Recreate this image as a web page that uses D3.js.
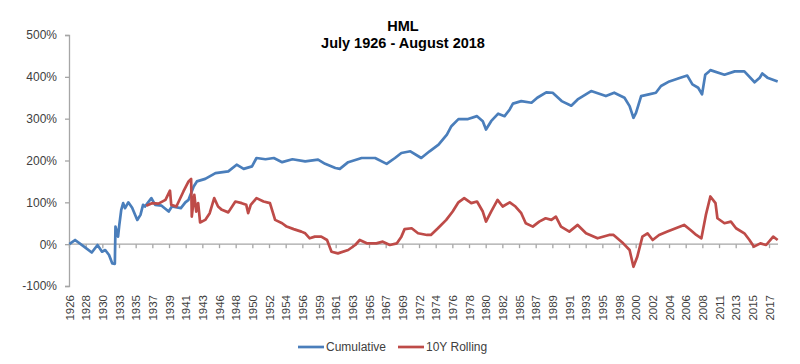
<!DOCTYPE html>
<html>
<head>
<meta charset="utf-8">
<script src="https://cdn.jsdelivr.net/npm/d3@7"></script>
<style>
  body { margin: 0; background: #fff; }
  svg text { font-family: "Liberation Sans", Arial, sans-serif; }
</style>
</head>
<body>
<div id="chart"></div>
<script>
// HML cumulative and 10-year rolling return, monthly from July 1926 to August 2018
var startMonth = "1926-07";
var endMonth = "2018-08";

// x-axis labels, one every 26 months (Excel category axis interval)
var tickYears = [1926, 1928, 1930, 1933, 1935, 1937, 1939, 1941, 1943, 1946, 1948, 1950, 1952,
  1954, 1956, 1959, 1961, 1963, 1965, 1967, 1969, 1972, 1974, 1976, 1978, 1980, 1982, 1985,
  1987, 1989, 1991, 1993, 1995, 1998, 2000, 2002, 2004, 2006, 2008, 2011, 2013, 2015, 2017];
var tickStep = 26;
var yTicks = [-100, 0, 100, 200, 300, 400, 500];

var cumDates = ["1926-07", "1927-04", "1928-07", "1929-06", "1930-03", "1930-10", "1931-03", "1931-09",
  "1932-02", "1932-06", "1932-07", "1932-11", "1933-01", "1933-04", "1933-07", "1933-10", "1934-03",
  "1934-09", "1935-05", "1935-10", "1936-02", "1936-05", "1937-03", "1937-09", "1938-07", "1939-06",
  "1939-11", "1941-01", "1941-08", "1942-01", "1942-09", "1943-02", "1944-03", "1945-07", "1947-03",
  "1948-04", "1949-03", "1950-04", "1950-11", "1952-01", "1953-02", "1954-03", "1955-07", "1957-03",
  "1958-11", "1959-10", "1961-02", "1961-09", "1962-10", "1964-07", "1966-04", "1967-10", "1968-11",
  "1969-09", "1970-11", "1972-04", "1973-05", "1974-07", "1975-08", "1976-03", "1977-02", "1978-05",
  "1979-07", "1980-04", "1980-09", "1981-05", "1982-04", "1983-02", "1983-10", "1984-03", "1985-04",
  "1986-08", "1987-05", "1988-07", "1989-05", "1990-07", "1991-10", "1992-08", "1994-05", "1996-04",
  "1997-05", "1998-09", "1999-05", "1999-11", "2000-03", "2000-11", "2001-11", "2002-10", "2003-06",
  "2004-07", "2005-11", "2006-11", "2007-07", "2008-04", "2008-10", "2009-03", "2009-09", "2009-11",
  "2011-09", "2013-01", "2014-04", "2015-08", "2016-04", "2016-08", "2017-04", "2018-08"];
var cumValues = [0, 10, -7, -20, -2, -18, -14, -26,
  -46, -47, 42, 18, 46, 82, 98, 86, 100,
  87, 58, 70, 94, 90, 110, 94, 92, 78,
  90, 86, 100, 106, 138, 150, 156, 170, 174,
  190, 180, 186, 206, 203, 206, 196, 203, 198,
  202, 192, 182, 180, 196, 206, 206, 192, 206,
  218, 222, 206, 222, 238, 262, 282, 299, 299,
  306, 294, 274, 294, 312, 306, 322, 336, 342,
  338, 350, 363, 362, 342, 331, 346, 366, 354,
  362, 350, 330, 302, 314, 354, 358, 362, 378,
  389, 397, 403, 382, 374, 358, 405, 413, 416,
  405, 413, 413, 387, 398, 408, 398, 389];

var rollDates = ["1936-07", "1937-04", "1938-02", "1939-01", "1939-08", "1939-10", "1940-06", "1941-05",
  "1942-01", "1942-05", "1942-06", "1942-10", "1943-01", "1943-04", "1943-07", "1944-03", "1944-10",
  "1945-05", "1945-11", "1946-05", "1947-03", "1948-02", "1948-12", "1949-07", "1949-10", "1950-02",
  "1950-11", "1951-10", "1952-08", "1953-04", "1954-03", "1954-10", "1955-09", "1956-09", "1957-03",
  "1957-10", "1958-06", "1959-04", "1960-01", "1960-08", "1961-06", "1962-10", "1963-09", "1964-04",
  "1965-03", "1966-06", "1967-04", "1968-03", "1969-02", "1969-09", "1970-02", "1971-01", "1971-11",
  "1973-01", "1973-07", "1974-06", "1975-07", "1976-05", "1977-02", "1977-11", "1978-10", "1979-07",
  "1980-04", "1980-09", "1981-05", "1982-03", "1982-11", "1983-10", "1984-07", "1985-04", "1985-11",
  "1986-10", "1987-08", "1988-06", "1989-03", "1989-10", "1990-06", "1991-07", "1992-08", "1993-09",
  "1995-03", "1996-09", "1997-04", "1998-07", "1999-05", "1999-11", "2000-05", "2001-01", "2001-09",
  "2002-05", "2003-03", "2004-04", "2005-05", "2006-06", "2007-04", "2008-01", "2008-09", "2009-04",
  "2009-11", "2010-07", "2010-10", "2011-09", "2012-07", "2013-03", "2014-04", "2014-12", "2015-07",
  "2016-05", "2017-02", "2018-01", "2018-08"];
var rollValues = [92, 98, 97, 106, 128, 94, 90, 126,
  150, 156, 66, 118, 78, 98, 52, 58, 74,
  110, 90, 82, 76, 102, 98, 94, 74, 94,
  110, 102, 98, 58, 50, 42, 36, 30, 26,
  14, 18, 18, 10, -18, -22, -14, -2, 10,
  2, 2, 6, -2, 2, 18, 36, 38, 26,
  22, 22, 38, 58, 78, 100, 110, 98, 102,
  78, 54, 78, 106, 90, 100, 90, 74, 50,
  42, 54, 62, 58, 66, 42, 30, 46, 26,
  14, 22, 22, 2, -14, -54, -30, 18, 26,
  10, 22, 30, 38, 46, 34, 22, 14, 70,
  114, 98, 62, 50, 54, 38, 26, 10, -6,
  2, -2, 18, 10];

function monthIndex(s) {
  var p = s.split("-"), q = startMonth.split("-");
  return (+p[0] - +q[0]) * 12 + (+p[1] - +q[1]);
}
var nMonths = monthIndex(endMonth) + 1;

var width = 800, height = 364;
var margin = { top: 35, right: 22, bottom: 78, left: 69 };

var svg = d3.select("#chart").append("svg")
    .attr("width", width)
    .attr("height", height);

var x = d3.scaleLinear()
    .domain([0, nMonths])
    .range([margin.left, width - margin.right]);

var y = d3.scaleLinear()
    .domain([-100, 500])
    .range([height - margin.bottom, margin.top]);

var axisColor = "#A6A6A6";
var textColor = "#404040";

// Y axis
var yAxis = svg.append("g")
    .attr("transform", "translate(" + margin.left + ",0)")
    .call(d3.axisLeft(y).tickValues(yTicks).tickSize(4).tickPadding(8)
      .tickFormat(function (d) { return d + "%"; }));
yAxis.select(".domain").attr("stroke", axisColor).attr("stroke-width", 1.3);
yAxis.selectAll(".tick line").attr("stroke", axisColor).attr("stroke-width", 1.3);
yAxis.selectAll(".tick text")
    .attr("fill", textColor)
    .style("font-size", "12px")
    .style("font-family", "'Liberation Sans', Arial, sans-serif");

// X axis sits on the 0% line
var xAxis = svg.append("g")
    .attr("transform", "translate(0," + y(0) + ")")
    .call(d3.axisBottom(x)
      .tickValues(tickYears.map(function (d, i) { return i * tickStep; }))
      .tickSize(4)
      .tickFormat(function (d, i) { return tickYears[i]; }));
xAxis.select(".domain")
    .attr("d", "M" + x(0) + ",0H" + x(nMonths))
    .attr("stroke", axisColor).attr("stroke-width", 1.3);
xAxis.selectAll(".tick line").attr("stroke", axisColor).attr("stroke-width", 1.3);
xAxis.selectAll(".tick text")
    .attr("fill", textColor)
    .style("font-size", "11.5px")
    .style("font-family", "'Liberation Sans', Arial, sans-serif")
    .attr("text-anchor", "end")
    .attr("transform", "translate(0," + (y(-100) + 9 - y(0)) + ") rotate(-90)")
    .attr("x", 0)
    .attr("y", 0)
    .attr("dy", "0.35em");

// lines
var cumData = cumDates.map(function (d, i) { return { m: monthIndex(d), v: cumValues[i] }; });
var rollData = rollDates.map(function (d, i) { return { m: monthIndex(d), v: rollValues[i] }; });

var line = d3.line()
    .x(function (d) { return x(d.m + 0.5); })
    .y(function (d) { return y(d.v); });

svg.append("path")
    .datum(cumData)
    .attr("fill", "none")
    .attr("stroke", "#4A7EBB")
    .attr("stroke-width", 2.7)
    .attr("stroke-linejoin", "round")
    .attr("d", line);

svg.append("path")
    .datum(rollData)
    .attr("fill", "none")
    .attr("stroke", "#BE4B48")
    .attr("stroke-width", 2.7)
    .attr("stroke-linejoin", "round")
    .attr("d", line);

// title
var title = svg.append("text")
    .attr("x", 403)
    .attr("text-anchor", "middle")
    .style("font-weight", "bold")
    .style("font-size", "14.5px")
    .attr("fill", "#000");
title.append("tspan").attr("x", 403).attr("y", 31).text("HML");
title.append("tspan").attr("x", 403).attr("y", 48).text("July 1926 - August 2018");

// legend
var legendItems = [
  { name: "Cumulative", color: "#4A7EBB", x: 298 },
  { name: "10Y Rolling", color: "#BE4B48", x: 398 }
];
var legend = svg.append("g");
legendItems.forEach(function (d) {
  legend.append("line")
      .attr("x1", d.x).attr("x2", d.x + 26)
      .attr("y1", 347).attr("y2", 347)
      .attr("stroke", d.color)
      .attr("stroke-width", 2.7);
  legend.append("text")
      .attr("x", d.x + 28)
      .attr("y", 347)
      .attr("dy", "0.35em")
      .style("font-size", "12px")
      .attr("fill", textColor)
      .text(d.name);
});
</script>
</body>
</html>
